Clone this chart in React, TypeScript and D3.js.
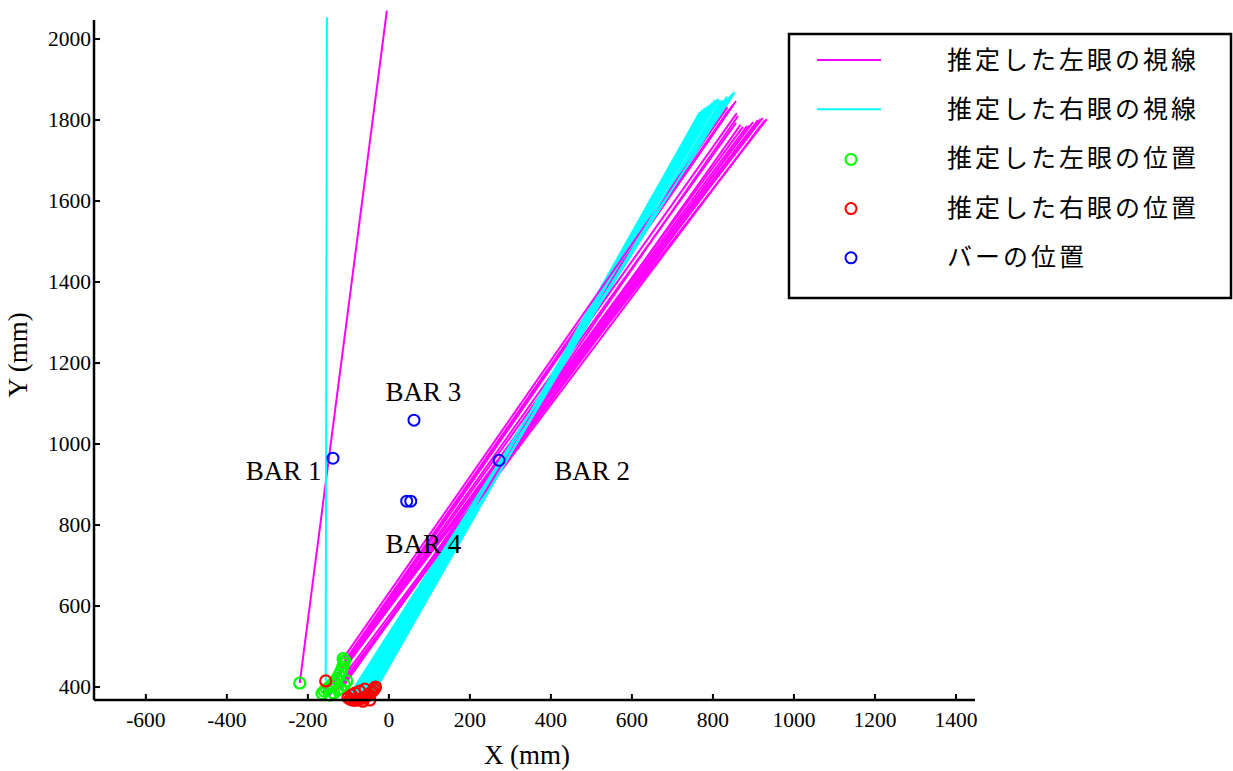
import React from 'react';
import * as d3 from 'd3';

// left eye (green) positions and where its gaze line ends (magenta)
const leftEyeX = [-220, -165, -160, -154, -147, -140, -134, -128, -123, -118, -114, -111, -109, -126, -110, -136, -119, -146, -104, -113];
const leftEyeY = [410, 384, 390, 395, 400, 406, 413, 421, 430, 440, 450, 458, 465, 393, 405, 385, 396, 380, 415, 470];
const leftGazeX = [-5, 933, 923, 911, 899, 884, 874, 857, 859, 857, 850, 845, 840, 905, 868, 928, 890, 918, 862, 836];
const leftGazeY = [2070, 1802, 1805, 1800, 1795, 1785, 1783, 1793, 1817, 1847, 1838, 1830, 1826, 1790, 1788, 1799, 1786, 1803, 1810, 1832];

// right eye (red) positions and where its gaze line ends (cyan)
const rightEyeX = [-156, -101, -96, -90, -84, -78, -72, -66, -60, -54, -49, -44, -40, -36, -33, -72, -84, -59, -47, -92, -64];
const rightEyeY = [415, 374, 370, 368, 367, 368, 370, 372, 375, 378, 382, 386, 390, 395, 400, 390, 385, 395, 368, 380, 365];
const rightGazeX = [-153, 854, 848, 842, 836, 830, 825, 815, 805, 798, 793, 786, 780, 774, 768, 835, 845, 812, 790, 850, 820];
const rightGazeY = [2054, 1869, 1864, 1857, 1853, 1850, 1849, 1850, 1849, 1842, 1837, 1833, 1830, 1825, 1820, 1858, 1862, 1852, 1835, 1866, 1848];

// bar positions
const barX = [-138, 272, 62, 44, 54];
const barY = [965, 960, 1059, 859, 859];

const barLabels = ['BAR 1', 'BAR 2', 'BAR 3', 'BAR 4'];
const barLabelX = [-260, 502, 85, 85];
const barLabelY = [911, 911, 1106, 731];

const xTicks = [-600, -400, -200, 0, 200, 400, 600, 800, 1000, 1200, 1400];
const yTicks = [400, 600, 800, 1000, 1200, 1400, 1600, 1800, 2000];

const legendItems = [
  { label: '推定した左眼の視線', kind: 'line', color: '#ff00ff' },
  { label: '推定した右眼の視線', kind: 'line', color: '#00ffff' },
  { label: '推定した左眼の位置', kind: 'dot', color: '#00ff00' },
  { label: '推定した右眼の位置', kind: 'dot', color: '#ff0000' },
  { label: 'バーの位置', kind: 'dot', color: '#0000ff' },
];

export default function App() {
  const width = 1233;
  const height = 771;
  const x = d3.scaleLinear().domain([-728, 1447]).range([94, 975]);
  const y = d3.scaleLinear().domain([368, 2047]).range([700, 20]);
  const serif = '"Liberation Serif", "DejaVu Serif", serif';
  const jp = '"Noto Sans CJK JP", "Noto Sans", sans-serif';
  const r = 5.5;

  const frames = d3.range(Math.max(leftEyeX.length, rightEyeX.length));

  return (
    <svg width={width} height={height} style={{ position: 'absolute', left: 0, top: 0, background: '#fff' }}>
      <rect width={width} height={height} fill="#fff" />

      {/* gaze lines, frame by frame */}
      {frames.map(i => (
        <g key={'f' + i}>
          {i < leftEyeX.length && (
            <line x1={x(leftEyeX[i])} y1={y(leftEyeY[i])} x2={x(leftGazeX[i])} y2={y(leftGazeY[i])}
              stroke="#ff00ff" strokeWidth={2} />
          )}
          {i < rightEyeX.length && (
            <line x1={x(rightEyeX[i])} y1={y(rightEyeY[i])} x2={x(rightGazeX[i])} y2={y(rightGazeY[i])}
              stroke="#00ffff" strokeWidth={2} />
          )}
        </g>
      ))}
      {leftEyeX.map((v, i) => (
        <circle key={'l' + i} cx={x(v)} cy={y(leftEyeY[i])} r={r} fill="none" stroke="#00ff00" strokeWidth={2.2} />
      ))}
      {rightEyeX.map((v, i) => (
        <circle key={'r' + i} cx={x(v)} cy={y(rightEyeY[i])} r={r} fill="none" stroke="#ff0000" strokeWidth={2.2} />
      ))}
      {barX.map((v, i) => (
        <circle key={'b' + i} cx={x(v)} cy={y(barY[i])} r={r} fill="none" stroke="#0000ff" strokeWidth={2} />
      ))}

      {barLabels.map((t, i) => (
        <text key={t} x={x(barLabelX[i])} y={y(barLabelY[i])} textAnchor="middle"
          fontFamily={serif} fontSize={27} fill="#000">{t}</text>
      ))}

      {/* axes */}
      <line x1={94} y1={700} x2={975} y2={700} stroke="#000" strokeWidth={2.5} />
      <line x1={94} y1={y.range()[1]} x2={94} y2={700} stroke="#000" strokeWidth={2.5} />
      {xTicks.map(t => (
        <g key={'xt' + t}>
          <line x1={x(t)} x2={x(t)} y1={700} y2={694} stroke="#000" strokeWidth={2} />
          <text x={x(t)} y={727} textAnchor="middle" fontFamily={serif} fontSize={21.5}>{t}</text>
        </g>
      ))}
      {yTicks.map(t => (
        <g key={'yt' + t}>
          <line x1={94} x2={100} y1={y(t)} y2={y(t)} stroke="#000" strokeWidth={2} />
          <text x={91} y={y(t) + 7} textAnchor="end" fontFamily={serif} fontSize={21.5}>{t}</text>
        </g>
      ))}
      <text x={527} y={764} textAnchor="middle" fontFamily={serif} fontSize={27}>X (mm)</text>
      <text transform="translate(27,355) rotate(-90)" textAnchor="middle" fontFamily={serif} fontSize={27}>Y (mm)</text>

      {/* legend */}
      <rect x={789} y={34} width={442} height={264} fill="#fff" stroke="#000" strokeWidth={2.5} />
      {legendItems.map((d, i) => {
        const cy = 60 + i * 49.2;
        return (
          <g key={d.label}>
            {d.kind === 'line'
              ? <line x1={817} x2={881} y1={cy} y2={cy} stroke={d.color} strokeWidth={2} />
              : <circle cx={851} cy={cy + 1} r={r} fill="none" stroke={d.color} strokeWidth={2} />}
            <text x={947} y={cy + 9} fontFamily={jp} fontSize={25} letterSpacing={3} fill="#000">{d.label}</text>
          </g>
        );
      })}
    </svg>
  );
}
